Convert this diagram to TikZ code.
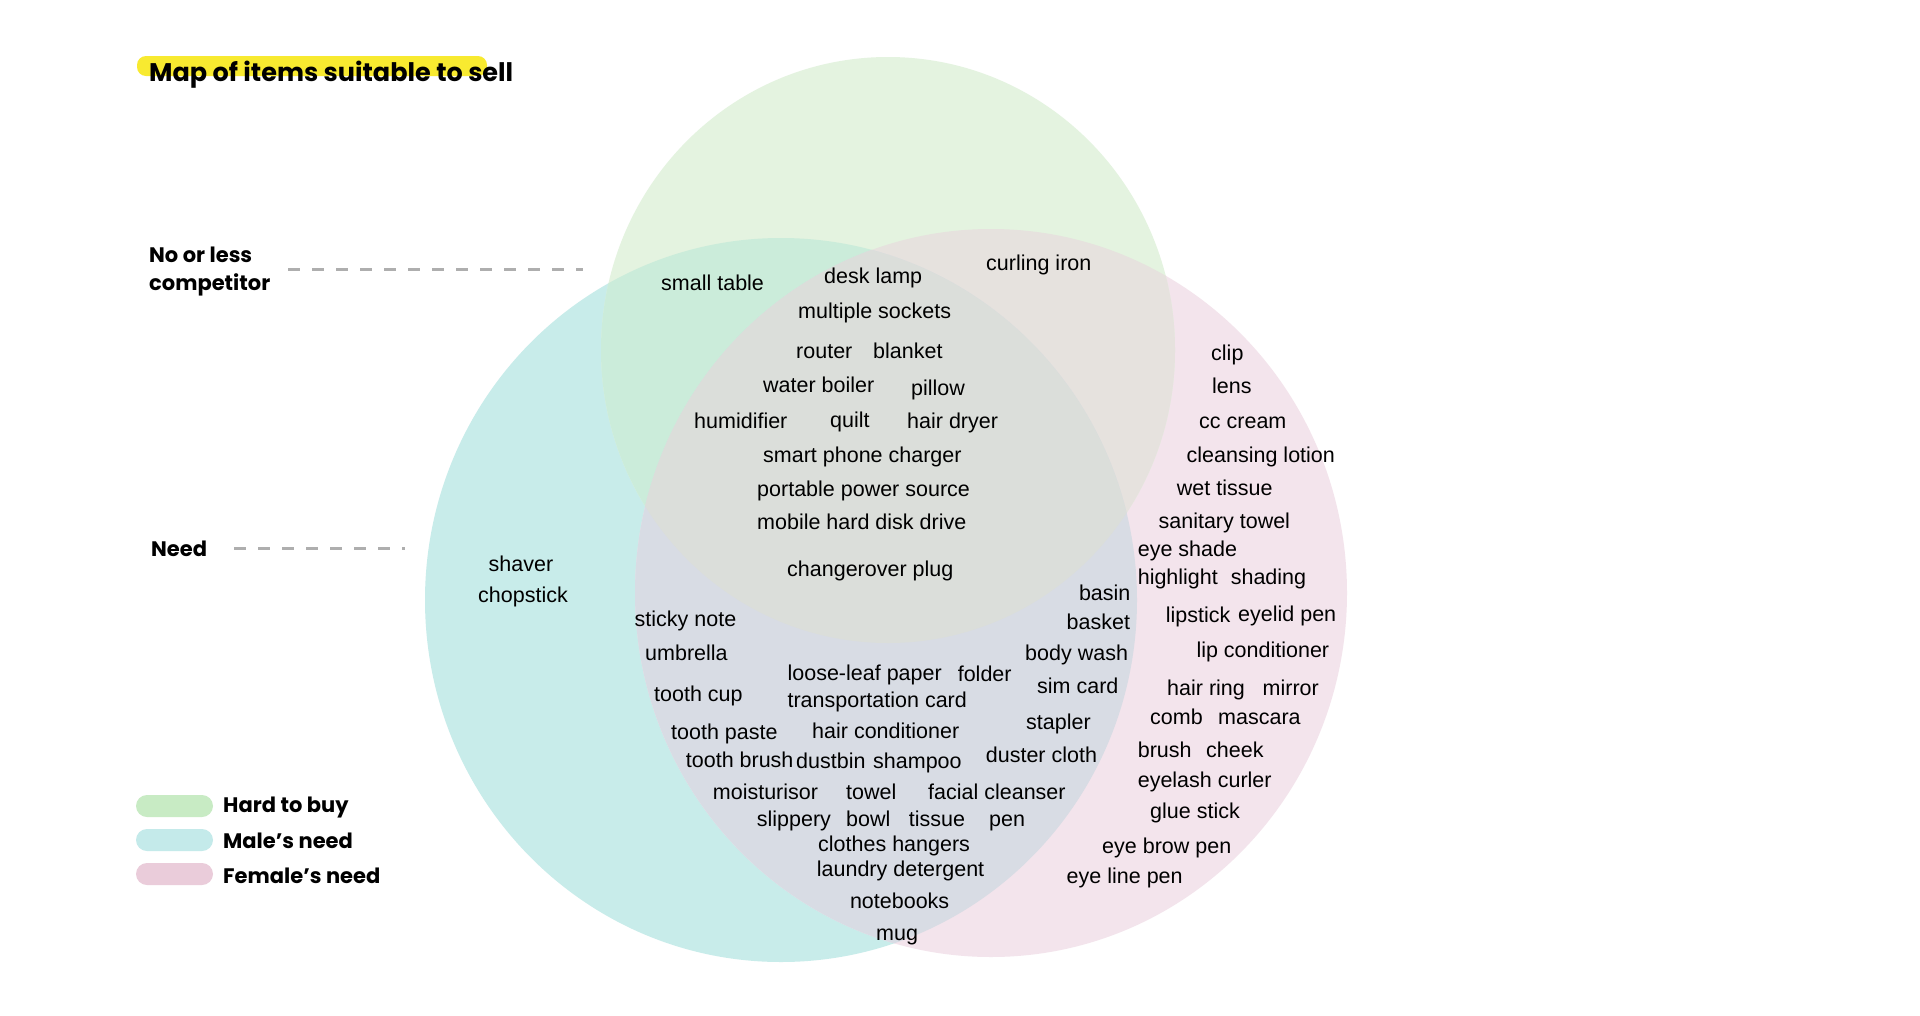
\documentclass[tikz,border=0pt]{standalone}
\usepackage{fontspec}
\setmainfont{Liberation Sans}
\newfontfamily\headfont{Poppins}
\definecolor{cG}{HTML}{E4F3E0}
\definecolor{cT}{HTML}{C8ECEA}
\definecolor{cP}{HTML}{F3E4EC}
\definecolor{cGT}{HTML}{CBECDA}
\definecolor{cGP}{HTML}{E6E2DE}
\definecolor{cTP}{HTML}{D8DCE4}
\definecolor{cGTP}{HTML}{DBDEDA}
\definecolor{swG}{HTML}{C8EBC4}
\definecolor{swT}{HTML}{C4EAEA}
\definecolor{swP}{HTML}{EACCDA}
\definecolor{hiY}{HTML}{F8EA30}
\definecolor{dashgray}{HTML}{AEAEAE}
\begin{document}
\begin{tikzpicture}[x=1pt,y=-1pt,
  item/.style={font=\fontsize{21.5}{24}\selectfont, inner sep=0pt, text height=15.4pt, text depth=3pt, anchor=west, text=black},
  headlab/.style={font=\headfont\bfseries\fontsize{21}{24}\selectfont, inner sep=0pt, anchor=base west, text=black},
  guide/.style={draw=dashgray, line width=3pt, dash pattern=on 12pt off 12pt},
  swatch/.style={minimum width=77pt, minimum height=22pt, rounded corners=11pt, inner sep=0pt}]
\useasboundingbox (0,0) rectangle (1920,1015);
\fill[white] (0,0) rectangle (1920,1015);
% circles
\def\Gpath{(888,350) ellipse [x radius=287pt, y radius=293pt]}
\def\Tpath{(781,600) ellipse [x radius=356pt, y radius=362pt]}
\def\Ppath{(991,593) ellipse [x radius=356pt, y radius=364pt]}
\fill[cT] \Tpath;
\fill[cP] \Ppath;
\fill[cG] \Gpath;
\begin{scope}\clip \Gpath; \fill[cGT] \Tpath;\end{scope}
\begin{scope}\clip \Gpath; \fill[cGP] \Ppath;\end{scope}
\begin{scope}\clip \Tpath; \fill[cTP] \Ppath;\end{scope}
\begin{scope}\clip \Gpath; \clip \Tpath; \fill[cGTP] \Ppath;\end{scope}
% title
\fill[hiY, rounded corners=9pt] (137,56) rectangle (487,76);
\node[anchor=base west, inner sep=0pt, font=\headfont\bfseries\fontsize{25.5}{30}\selectfont] (title) at (149,81) {Map of items suitable to sell};
% side labels
\node[headlab] (nol1) at (149,262) {No or less};
\node[headlab] (nol2) at (149,290) {competitor};
\coordinate (d1a) at (288,269);
\coordinate (d1b) at (583,269);
\draw[guide] (d1a) -- (d1b);
\node[headlab] (need) at (151,556) {Need};
\coordinate (d2a) at (234,548.5);
\coordinate (d2b) at (405,548.5);
\draw[guide] (d2a) -- (d2b);
% legend
\node[swatch, fill=swG] (swg) at (174.5,806) {};
\node[swatch, fill=swT] (swt) at (174.5,840) {};
\node[swatch, fill=swP] (swp) at (174.5,874) {};
\node[headlab] (lg1) at (223,812) {Hard to buy};
\node[headlab] (lg2) at (223,848) {Male’s need};
\node[headlab] (lg3) at (223,883) {Female’s need};
% items
\foreach \n/\x/\y/\t in {
s1/661/284/small table,
s2/824/277.5/desk lamp,
s3/986/264/curling iron,
s4/798/312/multiple sockets,
s5/796/352/router,
s6/873/352/blanket,
s7/763/386.5/water boiler,
s8/911/389/pillow,
s9/694/422/humidifier,
s10/830/421/quilt,
s11/907/422/hair dryer,
s12/763/456/smart phone charger,
s13/757/490.6/portable power source,
s14/757/523.6/mobile hard disk drive,
s15/787/570.5/changerover plug,
s16/488.5/565/shaver,
s17/478/596.5/chopstick,
s18/634.5/620.5/sticky note,
s19/645/654.6/umbrella,
s20/654/695/tooth cup,
s21/787.4/674/loose-leaf paper,
s22/957.6/675.5/folder,
s23/787.4/701/transportation card,
s24/671/733/tooth paste,
s25/812/732/hair conditioner,
s26/685.7/761/tooth brush,
s27/796/762.4/dustbin,
s28/873/762.4/shampoo,
s29/712.7/793/moisturisor,
s30/846/793/towel,
s31/928/793/facial cleanser,
s32/756.7/820/slippery,
s33/846/820/bowl,
s34/908.6/820/tissue,
s35/989/820/pen,
s36/818/845.7/clothes hangers,
s37/816.7/870/laundry detergent,
s38/849.8/902/notebooks,
s39/876/934.5/mug,
s40/1078.8/594.7/basin,
s41/1066.5/622.8/basket,
s42/1025/654.6/body wash,
s43/1037/687.7/sim card,
s44/1026/723/stapler,
s45/985.7/756/duster cloth,
s46/1211/354.5/clip,
s47/1212/387.5/lens,
s48/1199/422/cc cream,
s49/1186.5/456.3/cleansing lotion,
s50/1176.7/489.4/wet tissue,
s51/1158.4/522.4/sanitary towel,
s52/1137.6/550.6/eye shade,
s53/1137.6/578.7/highlight,
s54/1230.6/578/shading,
s55/1165.7/616.7/lipstick,
s56/1238/615.5/eyelid pen,
s57/1196.3/651/lip conditioner,
s58/1167/689/hair ring,
s59/1262.5/689/mirror,
s60/1150/718.3/comb,
s61/1218/718.3/mascara,
s62/1137.6/751.4/brush,
s63/1206/751.4/cheek,
s64/1137.6/780.8/eyelash curler,
s65/1150/812.6/glue stick,
s66/1102/847/eye brow pen,
s67/1066.5/877.5/eye line pen}
{\node[item] (\n) at (\x,\y) {\t};}
\end{tikzpicture}
\end{document}
